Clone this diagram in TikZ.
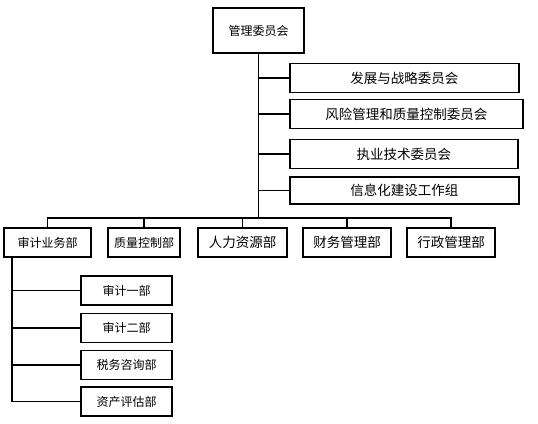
\documentclass[tikz,border=0pt]{standalone}
\usepackage{fontspec}
\setmainfont{Noto Sans CJK SC}
\usetikzlibrary{positioning}

\tikzset{
  unitbox/.style={draw, line width=1.5pt, inner sep=0pt, minimum height=29pt, font=\fontsize{12}{14}\selectfont},
  wirel/.style={line width=1.7pt}
}

\begin{document}
\begin{tikzpicture}[x=1pt,y=1pt,yscale=-1,xscale=1]
\useasboundingbox (0,0) rectangle (538,423);

% Top box
\node [unitbox, minimum width=91pt, minimum height=45pt] (board) at (258.5,30.5) {管理委员会};

% Committees
\node [unitbox, anchor=west, minimum width=229pt, font=\fontsize{13.5}{15}\selectfont] (cmt1) at (289,78) {发展与战略委员会};
\node [unitbox, anchor=west, minimum width=233pt, font=\fontsize{13.5}{15}\selectfont] (cmt2) at (289,114) {风险管理和质量控制委员会};
\node [unitbox, anchor=west, minimum width=228pt, font=\fontsize{13.5}{15}\selectfont] (cmt3) at (289,154) {执业技术委员会};
\node [unitbox, anchor=west, minimum width=229pt, minimum height=27pt, font=\fontsize{13.5}{15}\selectfont] (cmt4) at (289,190.5) {信息化建设工作组};

% Departments
\node [unitbox, minimum width=87pt] (dept1) at (47.5,242.5) {审计业务部};
\node [unitbox, minimum width=72pt] (dept2) at (144,242.5) {质量控制部};
\node [unitbox, minimum width=89pt, font=\fontsize{13.5}{15}\selectfont] (dept3) at (242.5,242.5) {人力资源部};
\node [unitbox, minimum width=88pt, font=\fontsize{13.5}{15}\selectfont] (dept4) at (347,242.5) {财务管理部};
\node [unitbox, minimum width=88pt, font=\fontsize{13.5}{15}\selectfont] (dept5) at (451,242.5) {行政管理部};

% Audit sections
\node [unitbox, minimum width=91pt] (sec1) at (126.5,290.5) {审计一部};
\node [unitbox, minimum width=91pt] (sec2) at (126.5,328) {审计二部};
\node [unitbox, minimum width=91pt] (sec3) at (126.5,365) {税务咨询部};
\node [unitbox, minimum width=91pt] (sec4) at (126.5,401.5) {资产评估部};

% Trunk and bus
\coordinate (bus) at (258.5,218);
\draw [wirel] (board.south) -- (bus);
\foreach \c in {cmt1,cmt2,cmt3,cmt4}
  \draw [wirel] (board.south |- \c.west) -- (\c.west);
\draw [wirel] (dept1.north) |- (bus) -| (dept5.north);
\foreach \d in {dept2,dept3,dept4}
  \draw [wirel] (\d.north) -- (\d.north |- bus);

% Left trunk
\coordinate (drop) at ([xshift=9pt]dept1.south west);
\draw [wirel] (drop) |- (sec4.west);
\foreach \s in {sec1,sec2,sec3}
  \draw [wirel] (drop |- \s.west) -- (\s.west);

\end{tikzpicture}
\end{document}
